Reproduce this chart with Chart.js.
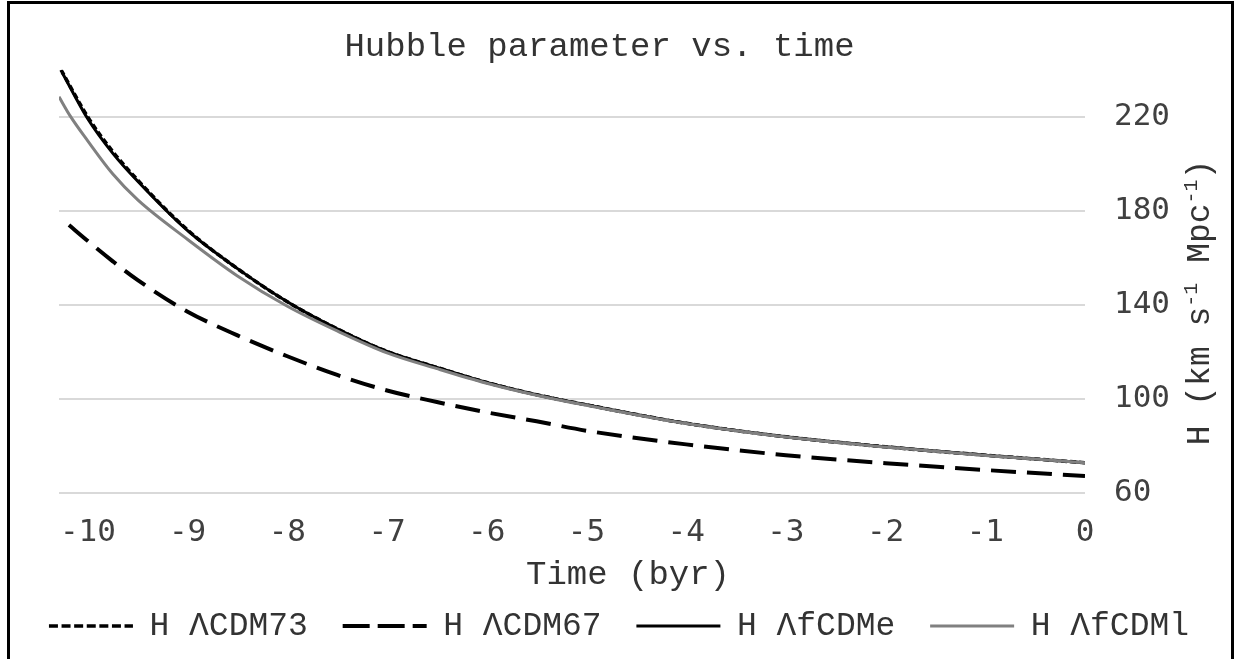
<!DOCTYPE html>
<html>
<head>
<meta charset="utf-8">
<script src="https://cdn.jsdelivr.net/npm/chart.js@4.4.1/dist/chart.umd.min.js"></script>
<style>
  body { margin: 0; background: #fff; }
</style>
</head>
<body>
<canvas id="hubbleChart" width="1238" height="659"></canvas>
<script>
// time in byr (0 = today), H in km s^-1 Mpc^-1
const timeLCDM73 = [-10.27, -10, -9.75, -9.5, -9, -8.5, -8, -7.5, -7, -6.5, -6, -5.5, -5, -4, -3, -2, -1, 0];
const hLCDM73    = [240, 219.9, 205.2, 193.1, 171.9, 155.5, 141.4, 129.9, 120.3, 113.5, 107.1, 101.9, 97.6, 89.75, 84, 79.75, 76.2, 73];

const timeLCDM67 = [-10.19, -10, -9.75, -9.5, -9, -8.5, -8, -7.5, -7, -6.5, -6, -5.5, -5, -4, -3, -2, -1, 0];
const hLCDM67    = [174, 167.2, 158.6, 150.6, 137.2, 127.1, 118.25, 110.3, 103.7, 98.8, 94.4, 90.6, 86.6, 80.8, 76.2, 72.8, 69.9, 67.3];

const timeLfCDMe = [-10.26, -10, -9.75, -9.5, -9, -8.5, -8, -7.5, -7, -6.5, -6, -5.5, -5, -4, -3, -2, -1, 0];
const hLfCDMe    = [239, 219.1, 204.5, 192.6, 171.6, 155.5, 141.4, 129.9, 120.3, 113.5, 107.1, 101.9, 97.6, 89.75, 84, 79.75, 76.2, 73];

const timeLfCDMl = [-10.29, -10.18, -10, -9.75, -9.5, -9, -8.5, -8, -7.5, -7, -6.5, -6, -5.5, -5, -4, -3, -2, -1, 0];
const hLfCDMl    = [228.5, 220.5, 209.7, 195.7, 184.7, 167.9, 152.4, 139.5, 129, 119.7, 113, 106.8, 101.7, 97.4, 89.65, 83.9, 79.65, 76.1, 73];

const seriesNames = ['H \u039BCDM73', 'H \u039BCDM67', 'H \u039BfCDMe', 'H \u039BfCDMl'];
const xTicks = [-10, -9, -8, -7, -6, -5, -4, -3, -2, -1, 0];
const yTicks = [60, 100, 140, 180, 220];
const xTitle = 'Time (byr)';
const yTitleParts = ['H (km s', '-1', ' Mpc', '-1', ')'];

const COURIER = "'Courier New', 'Liberation Mono', monospace";
const MONO = "'DejaVu Sans Mono', monospace";
// the legend samples use a slightly longer dash than the curves
const legendDash = [[9, 3.6], [27, 8], [], []];

function toPoints(xs, ys) {
    return xs.map((x, i) => ({ x: x, y: ys[i] }));
}

// white page, outer frame, axis titles placed like the original
const frame = {
    id: 'frame',
    beforeDraw(chart) {
        const ctx = chart.ctx;
        ctx.save();
        ctx.fillStyle = '#fff';
        ctx.fillRect(0, 0, chart.width, chart.height);
        ctx.restore();
    },
    afterLayout(chart) {
        // the title sits a little left of the page centre
        chart.titleBlock.right = chart.width - 39;
    },
    afterDraw(chart) {
        const ctx = chart.ctx;
        const area = chart.chartArea;
        ctx.save();
        ctx.strokeStyle = '#000';
        ctx.lineWidth = 3;
        ctx.strokeRect(8.5, 2.5, chart.width - 14, chart.height + 20);

        ctx.fillStyle = '#333';
        ctx.font = '34px ' + COURIER;
        ctx.textAlign = 'center';
        ctx.textBaseline = 'middle';
        ctx.fillText(xTitle, 628, area.bottom + 82);

        ctx.textAlign = 'left';
        ctx.textBaseline = 'alphabetic';
        ctx.translate(area.right + 124, area.bottom - 48);
        ctx.rotate(-Math.PI / 2);
        let x = 0;
        yTitleParts.forEach((t, i) => {
            const sup = i % 2 === 1;
            ctx.font = (sup ? '20px ' : '33px ') + COURIER;
            ctx.fillText(t, x, sup ? -12 : 0);
            x += ctx.measureText(t).width;
        });
        ctx.restore();
    }
};

const data = {
    datasets: [
        {
            label: seriesNames[0],
            data: toPoints(timeLCDM73, hLCDM73),
            borderColor: '#000',
            borderWidth: 3.5,
            borderDash: [6, 3],
            order: 1
        },
        {
            label: seriesNames[1],
            data: toPoints(timeLCDM67, hLCDM67),
            borderColor: '#000',
            borderWidth: 4,
            borderDash: [25, 11],
            order: 3
        },
        {
            label: seriesNames[2],
            data: toPoints(timeLfCDMe, hLfCDMe),
            borderColor: '#000',
            borderWidth: 3,
            order: 2
        },
        {
            label: seriesNames[3],
            data: toPoints(timeLfCDMl, hLfCDMl),
            borderColor: '#808080',
            borderWidth: 3,
            order: 0
        }
    ]
};

const config = {
    type: 'line',
    data: data,
    options: {
        responsive: false,
        animation: false,
        devicePixelRatio: 1,
        layout: { padding: { top: 0, left: 0, right: 0, bottom: 6.5 } },
        elements: {
            point: { radius: 0 },
            line: { fill: false, cubicInterpolationMode: 'monotone' }
        },
        plugins: {
            tooltip: { enabled: false },
            title: {
                display: true,
                text: 'Hubble parameter vs. time',
                color: '#333',
                font: { family: COURIER, size: 34, weight: 'normal' },
                padding: { top: 27, bottom: 2 }
            },
            legend: {
                position: 'bottom',
                labels: {
                    usePointStyle: true,
                    pointStyle: 'line',
                    pointStyleWidth: 84,
                    padding: 34.8,
                    color: '#333',
                    font: { family: COURIER, size: 33 },
                    sort: (a, b) => a.datasetIndex - b.datasetIndex,
                    generateLabels: chart => {
                        const items = Chart.defaults.plugins.legend.labels.generateLabels(chart);
                        items.forEach(item => {
                            const ds = chart.data.datasets[item.datasetIndex];
                            item.strokeStyle = ds.borderColor;
                            item.lineWidth = ds.borderWidth;
                            item.lineDash = legendDash[item.datasetIndex];
                        });
                        return items;
                    }
                }
            }
        },
        scales: {
            x: {
                type: 'linear',
                min: -10.29,
                max: 0,
                afterBuildTicks: s => { s.ticks = xTicks.map(v => ({ value: v })); },
                afterFit: s => { s.height = 81.4; },
                grid: { display: false },
                border: { display: false },
                ticks: {
                    padding: 13,
                    color: '#404040',
                    font: { family: MONO, size: 31 }
                }
            },
            y: {
                type: 'linear',
                position: 'right',
                min: 60,
                max: 240,
                afterBuildTicks: s => { s.ticks = yTicks.map(v => ({ value: v })); },
                afterFit: s => { s.width = 153; },
                grid: { color: '#d9d9d9', lineWidth: 2, drawTicks: false },
                border: { display: false },
                ticks: {
                    padding: 29,
                    color: '#404040',
                    font: { family: MONO, size: 31 }
                }
            },
            // empty left gutter so the plot starts where the original does
            yPad: {
                type: 'linear',
                position: 'left',
                afterFit: s => { s.width = 59; },
                grid: { display: false },
                border: { display: false },
                ticks: { display: false }
            }
        }
    },
    plugins: [frame]
};

const chart = new Chart(document.getElementById('hubbleChart').getContext('2d'), config);
</script>
</body>
</html>
